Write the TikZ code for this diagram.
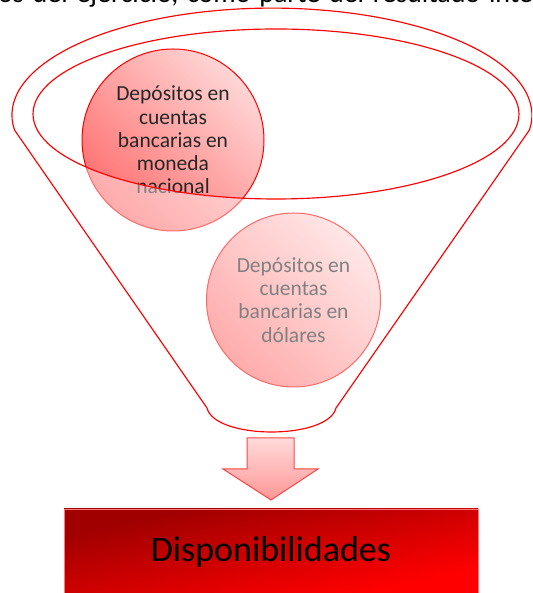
\documentclass[tikz,border=0pt]{standalone}
\usepackage{fontspec}
\setmainfont{Carlito}
\definecolor{funred}{RGB}{255,0,0}
\definecolor{cdark}{RGB}{255,112,112}
\definecolor{clight}{RGB}{255,214,214}
\definecolor{ctext}{RGB}{38,38,38}
\definecolor{arrtop}{RGB}{255,218,218}
\definecolor{arrbot}{RGB}{255,150,150}
\definecolor{arrline}{RGB}{255,70,70}
\definecolor{boxdark}{RGB}{160,0,0}
\definecolor{boxlight}{RGB}{255,0,0}
\definecolor{boxline}{RGB}{255,120,120}
\begin{document}
\begin{tikzpicture}[x=1pt,y=1pt,
  bubble/.style={circle, draw=funred, line width=1pt, inner sep=0pt, align=center,
    text=ctext, top color=clight, bottom color=cdark, shading angle=-45,
    font=\fontsize{21.5}{23.3}\selectfont},
  funline/.style={draw=funred, line width=1.15pt},
  arrowshape/.style={draw=arrline, line width=1pt, top color=arrtop, bottom color=arrbot},
  resultbox/.style={draw=boxline, line width=0.8pt, inner sep=0pt,
    font=\fontsize{36}{40}\selectfont}]
\useasboundingbox (0,0) rectangle (532,593);
\clip (0,0) rectangle (532,593);
% top clipped text line
\node[anchor=base west, inner sep=0pt, font=\fontsize{28}{30}\selectfont] (topline) at (-2,590)
  {\spaceskip=8.8pt plus 1pt\relax os del ejercicio, como parte del resultado inte};
% circles
\node[bubble, minimum size=182pt] (c1) at (173,453)
  {Depósitos en\\cuentas\\bancarias en\\moneda\\nacional};
\node[bubble, minimum size=174pt] (c2) at (293.5,293)
  {Depósitos en\\cuentas\\bancarias en\\dólares};
% funnel body (semi-transparent white over the circles)
\path[fill=white, fill opacity=0.42, even odd rule]
  (14.5,463) arc[start angle=188, end angle=-8, x radius=260, y radius=107]
  -- (336,185) .. controls (328,153) and (215,153) .. (207,185) -- cycle
  (276,479) ellipse [x radius=243, y radius=85];
% funnel outlines
\draw[funline, line join=round]
  (14.5,463) arc[start angle=188, end angle=-8, x radius=260, y radius=107]
  -- (336,185) .. controls (328,153) and (215,153) .. (207,185) -- cycle;
\draw[funline] (276,479) ellipse [x radius=243, y radius=85];
% result box: diagonal gradient fitted corner to corner
\begin{scope}[transform canvas={shift={(64,-2)}, xscale=4.14, yscale=0.86}]
  \shade[top color=boxdark, bottom color=boxlight, shading angle=45] (0,0) rectangle (100,100);
\end{scope}
\node[resultbox, minimum width=414pt, minimum height=86pt] (disp) at (271,41) {Disponibilidades};
% down arrow
\coordinate (tip) at (271,93);
\draw[arrowshape, line join=miter]
  (247,155) -- (294,155) -- (294,124) -- (318,124) -- (tip) -- (223,124) -- (247,124) -- cycle;
\end{tikzpicture}
\end{document}
